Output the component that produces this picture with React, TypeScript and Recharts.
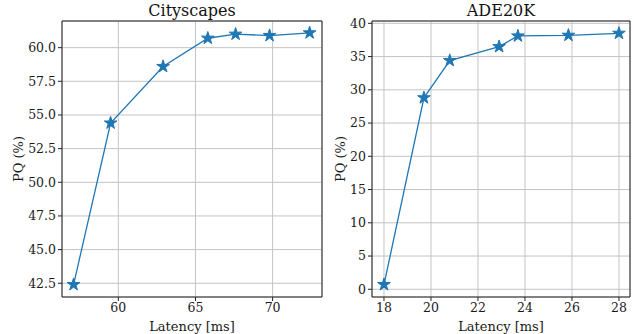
import { LineChart, Line, XAxis, YAxis, CartesianGrid, ReferenceArea, Symbols } from 'recharts';

const cityLatency = [57.1, 59.5, 62.9, 65.8, 67.6, 69.8, 72.4];
const cityPQ = [42.4, 54.4, 58.6, 60.7, 61.0, 60.9, 61.1];
const cityXTicks = [60, 65, 70];
const cityYTicks = [42.5, 45, 47.5, 50, 52.5, 55, 57.5, 60];

const adeLatency = [18.0, 19.7, 20.8, 22.9, 23.7, 25.85, 28.0];
const adePQ = [0.7, 28.8, 34.4, 36.5, 38.1, 38.2, 38.5];
const adeXTicks = [18, 20, 22, 24, 26, 28];
const adeYTicks = [0, 5, 10, 15, 20, 25, 30, 35, 40];

const FONT = '"DejaVu Serif", serif';
const BLUE = '#1f77b4';
const tick = { fontSize: 12.5, fill: '#1a1a1a', style: { fontFamily: FONT } };

const star = (props: any) => (
  <Symbols key={props.index} cx={props.cx} cy={props.cy} type="star" size={50} fill={BLUE} stroke={BLUE} />
);

interface PanelProps {
  title: string;
  xs: number[];
  ys: number[];
  xDomain: [number, number];
  yDomain: [number, number];
  xTicks: number[];
  yTicks: number[];
  yFmt: (v: number) => string;
  width: number;
  yAxisWidth: number;
  left: number;
  marginRight: number;
}

function Panel(p: PanelProps) {
  const data = p.xs.map((x, i) => ({ x, y: p.ys[i] }));
  const plotLeft = 12 + p.yAxisWidth;
  const plotW = p.width - plotLeft - p.marginRight;
  return (
    <div style={{ position: 'absolute', left: p.left, top: 0, width: p.width, height: 334, fontFamily: FONT }}>
      <div
        style={{
          position: 'absolute',
          left: plotLeft,
          width: plotW,
          top: 1,
          textAlign: 'center',
          fontSize: 16,
          color: '#111',
        }}
      >
        {p.title}
      </div>
      <LineChart
        width={p.width}
        height={334}
        data={data}
        style={{ fontFamily: FONT }}
        margin={{ top: 21, right: p.marginRight, left: 12, bottom: 0 }}
      >
        <CartesianGrid stroke="#c4c4c4" strokeWidth={1} />
        <XAxis
          type="number"
          dataKey="x"
          domain={p.xDomain}
          ticks={p.xTicks}
          allowDataOverflow
          height={37}
          tick={tick}
          tickSize={4}
          tickLine={{ stroke: '#222' }}
          axisLine={false}
          label={{ value: 'Latency [ms]', position: 'insideBottom', offset: 3, style: { fontSize: 13, fill: '#1a1a1a', fontFamily: FONT } }}
        />
        <YAxis
          type="number"
          dataKey="y"
          domain={p.yDomain}
          ticks={p.yTicks}
          allowDataOverflow
          width={p.yAxisWidth}
          tick={tick}
          tickSize={4}
          tickLine={{ stroke: '#222' }}
          axisLine={false}
          tickFormatter={p.yFmt}
          label={{
            value: 'PQ (%)',
            angle: -90,
            position: 'insideLeft',
            offset: 6,
            style: { fontSize: 13, fill: '#1a1a1a', textAnchor: 'middle', fontFamily: FONT },
          }}
        />
        <ReferenceArea
          x1={p.xDomain[0]}
          x2={p.xDomain[1]}
          y1={p.yDomain[0]}
          y2={p.yDomain[1]}
          fill="none"
          stroke="#222"
          strokeWidth={1}
          fillOpacity={0}
        />
        <Line type="linear" dataKey="y" stroke={BLUE} strokeWidth={1.3} dot={star} activeDot={false} isAnimationActive={false} />
      </LineChart>
    </div>
  );
}

export default function App() {
  return (
    <div style={{ position: 'absolute', left: 0, top: 0, width: 634, height: 334, background: '#fff' }}>
      <style>{'svg text, svg tspan { font-family: "DejaVu Serif", serif !important; }'}</style>
      <Panel
        title="Cityscapes"
        xs={cityLatency}
        ys={cityPQ}
        xDomain={[56.35, 73.2]}
        yDomain={[41.48, 61.98]}
        xTicks={cityXTicks}
        yTicks={cityYTicks}
        yFmt={(v) => v.toFixed(1)}
        width={330}
        yAxisWidth={50}
        left={0}
        marginRight={8}
      />
      <Panel
        title="ADE20K"
        xs={adeLatency}
        ys={adePQ}
        xDomain={[17.49, 28.47]}
        yDomain={[-1.16, 40.35]}
        xTicks={adeXTicks}
        yTicks={adeYTicks}
        yFmt={(v) => String(v)}
        width={312}
        yAxisWidth={38}
        left={322}
        marginRight={4}
      />
    </div>
  );
}
